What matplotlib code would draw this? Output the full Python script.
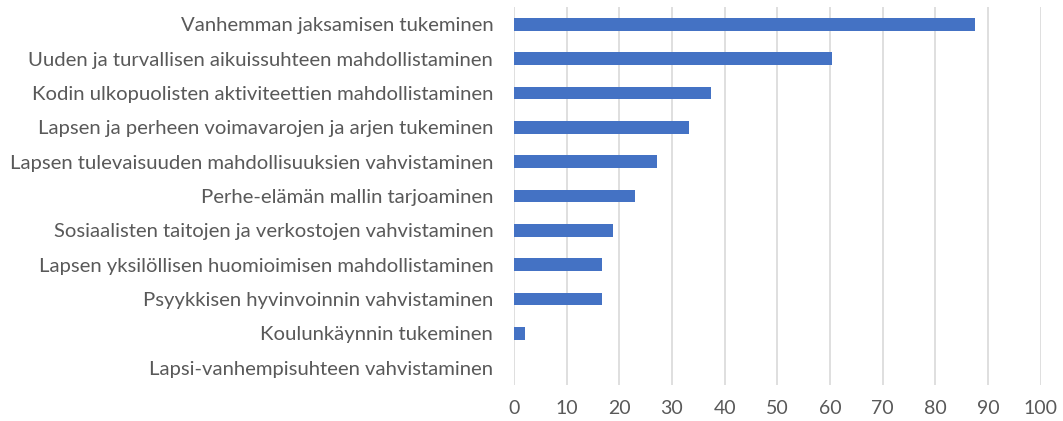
import matplotlib
matplotlib.use("Agg")
import matplotlib.pyplot as plt

categories = [
    "Vanhemman jaksamisen tukeminen",
    "Uuden ja turvallisen aikuissuhteen mahdollistaminen",
    "Kodin ulkopuolisten aktiviteettien mahdollistaminen",
    "Lapsen ja perheen voimavarojen ja arjen tukeminen",
    "Lapsen tulevaisuuden mahdollisuuksien vahvistaminen",
    "Perhe-elämän mallin tarjoaminen",
    "Sosiaalisten taitojen ja verkostojen vahvistaminen",
    "Lapsen yksilöllisen huomioimisen mahdollistaminen",
    "Psyykkisen hyvinvoinnin vahvistaminen",
    "Koulunkäynnin tukeminen",
    "Lapsi-vanhempisuhteen vahvistaminen",
]
values = [87.5, 60.4, 37.5, 33.3, 27.1, 22.9, 18.8, 16.7, 16.7, 2.1, 0]
xticks = [0, 10, 20, 30, 40, 50, 60, 70, 80, 90, 100]

plt.rcParams['font.family'] = ['Lato', 'DejaVu Sans']

fig = plt.figure(figsize=(10.63, 4.21), dpi=100)
ax = fig.add_axes([0.4835, 0.0855, 0.4955, 0.8975])

ypos = list(range(len(categories)))
ax.barh(ypos, values, height=0.37, color='#4472c4', zorder=3)
ax.set_yticks(ypos)
ax.set_yticklabels(categories, fontsize=14.6, color='#595959')
ax.set_ylim(len(categories) - 0.5, -0.5)

ax.set_xlim(0, 100)
ax.set_xticks(xticks)
ax.set_xticklabels([str(t) for t in xticks], fontsize=14, color='#595959')
ax.xaxis.grid(True, color='#d9d9d9', linewidth=1.2, zorder=0)
ax.tick_params(axis='both', length=0)
ax.tick_params(axis='x', pad=11)
ax.tick_params(axis='y', pad=15)
for s in ax.spines.values():
    s.set_visible(False)

fig.savefig("out.png", dpi=100)
